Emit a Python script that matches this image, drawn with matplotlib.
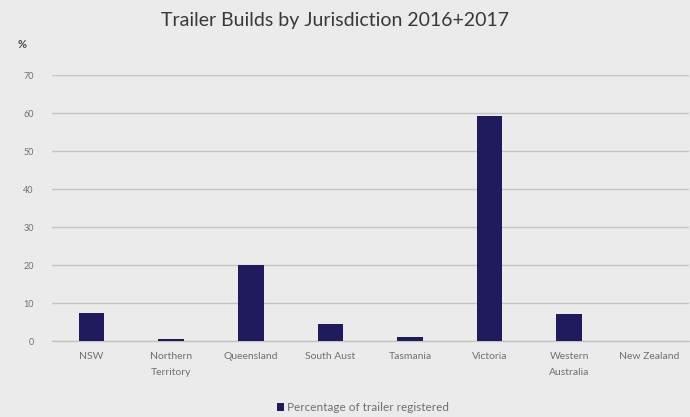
import matplotlib
matplotlib.use("Agg")
import matplotlib.pyplot as plt

# Values.
categories = ["NSW", "Northern\nTerritory", "Queensland", "South Aust", "Tasmania",
              "Victoria", "Western\nAustralia", "New Zealand"]
percent = [7.4, 0.6, 20.0, 4.5, 1.0, 59.2, 7.1, 0.0]
y_ticks = [0, 10, 20, 30, 40, 50, 60, 70]

BG = "#ebebeb"
BAR = "#1f1b5c"
TXT = "#707070"
FONT = "Lato"

fig = plt.figure(figsize=(6.9, 4.17), dpi=100, facecolor=BG)
ax = fig.add_axes([0.075, 0.182, 0.923, 0.638], facecolor=BG)

x = range(len(categories))
ax.bar(x, percent, width=0.32, color=BAR, zorder=3,
       label="Percentage of trailer registered")

ax.set_xlim(-0.5, len(categories) - 0.5)
ax.set_ylim(0, 70)
ax.set_yticks(y_ticks)
ax.set_xticks(list(x))
ax.set_xticklabels(categories, fontsize=7.5, color=TXT, family=FONT, linespacing=1.9)
ax.tick_params(axis="y", labelsize=6.5, labelcolor=TXT, length=0, pad=13)
ax.tick_params(axis="x", length=0, pad=8)
for lbl in ax.get_yticklabels():
    lbl.set_family(FONT)

ax.grid(axis="y", color="#c4c4c4", linewidth=1.0, zorder=0)
ax.axhline(0, color="#c4c4c4", linewidth=1.0, zorder=1, clip_on=False)
for s in ax.spines.values():
    s.set_visible(False)

fig.text(0.026, 0.885, "%", fontsize=8, color="#4a4a4a", fontweight="bold", family=FONT)
fig.text(0.486, 0.952, "Trailer Builds by Jurisdiction 2016+2017", ha="center",
         va="center", fontsize=14, color="#383838", family=FONT)

fig.legend(loc="center", bbox_to_anchor=(0.526, 0.022), frameon=False,
           labelcolor=TXT, handlelength=0.6, handleheight=0.6,
           handletextpad=0.3, prop={"family": FONT, "size": 8.5})

fig.savefig("out.png", dpi=100, facecolor=BG)
